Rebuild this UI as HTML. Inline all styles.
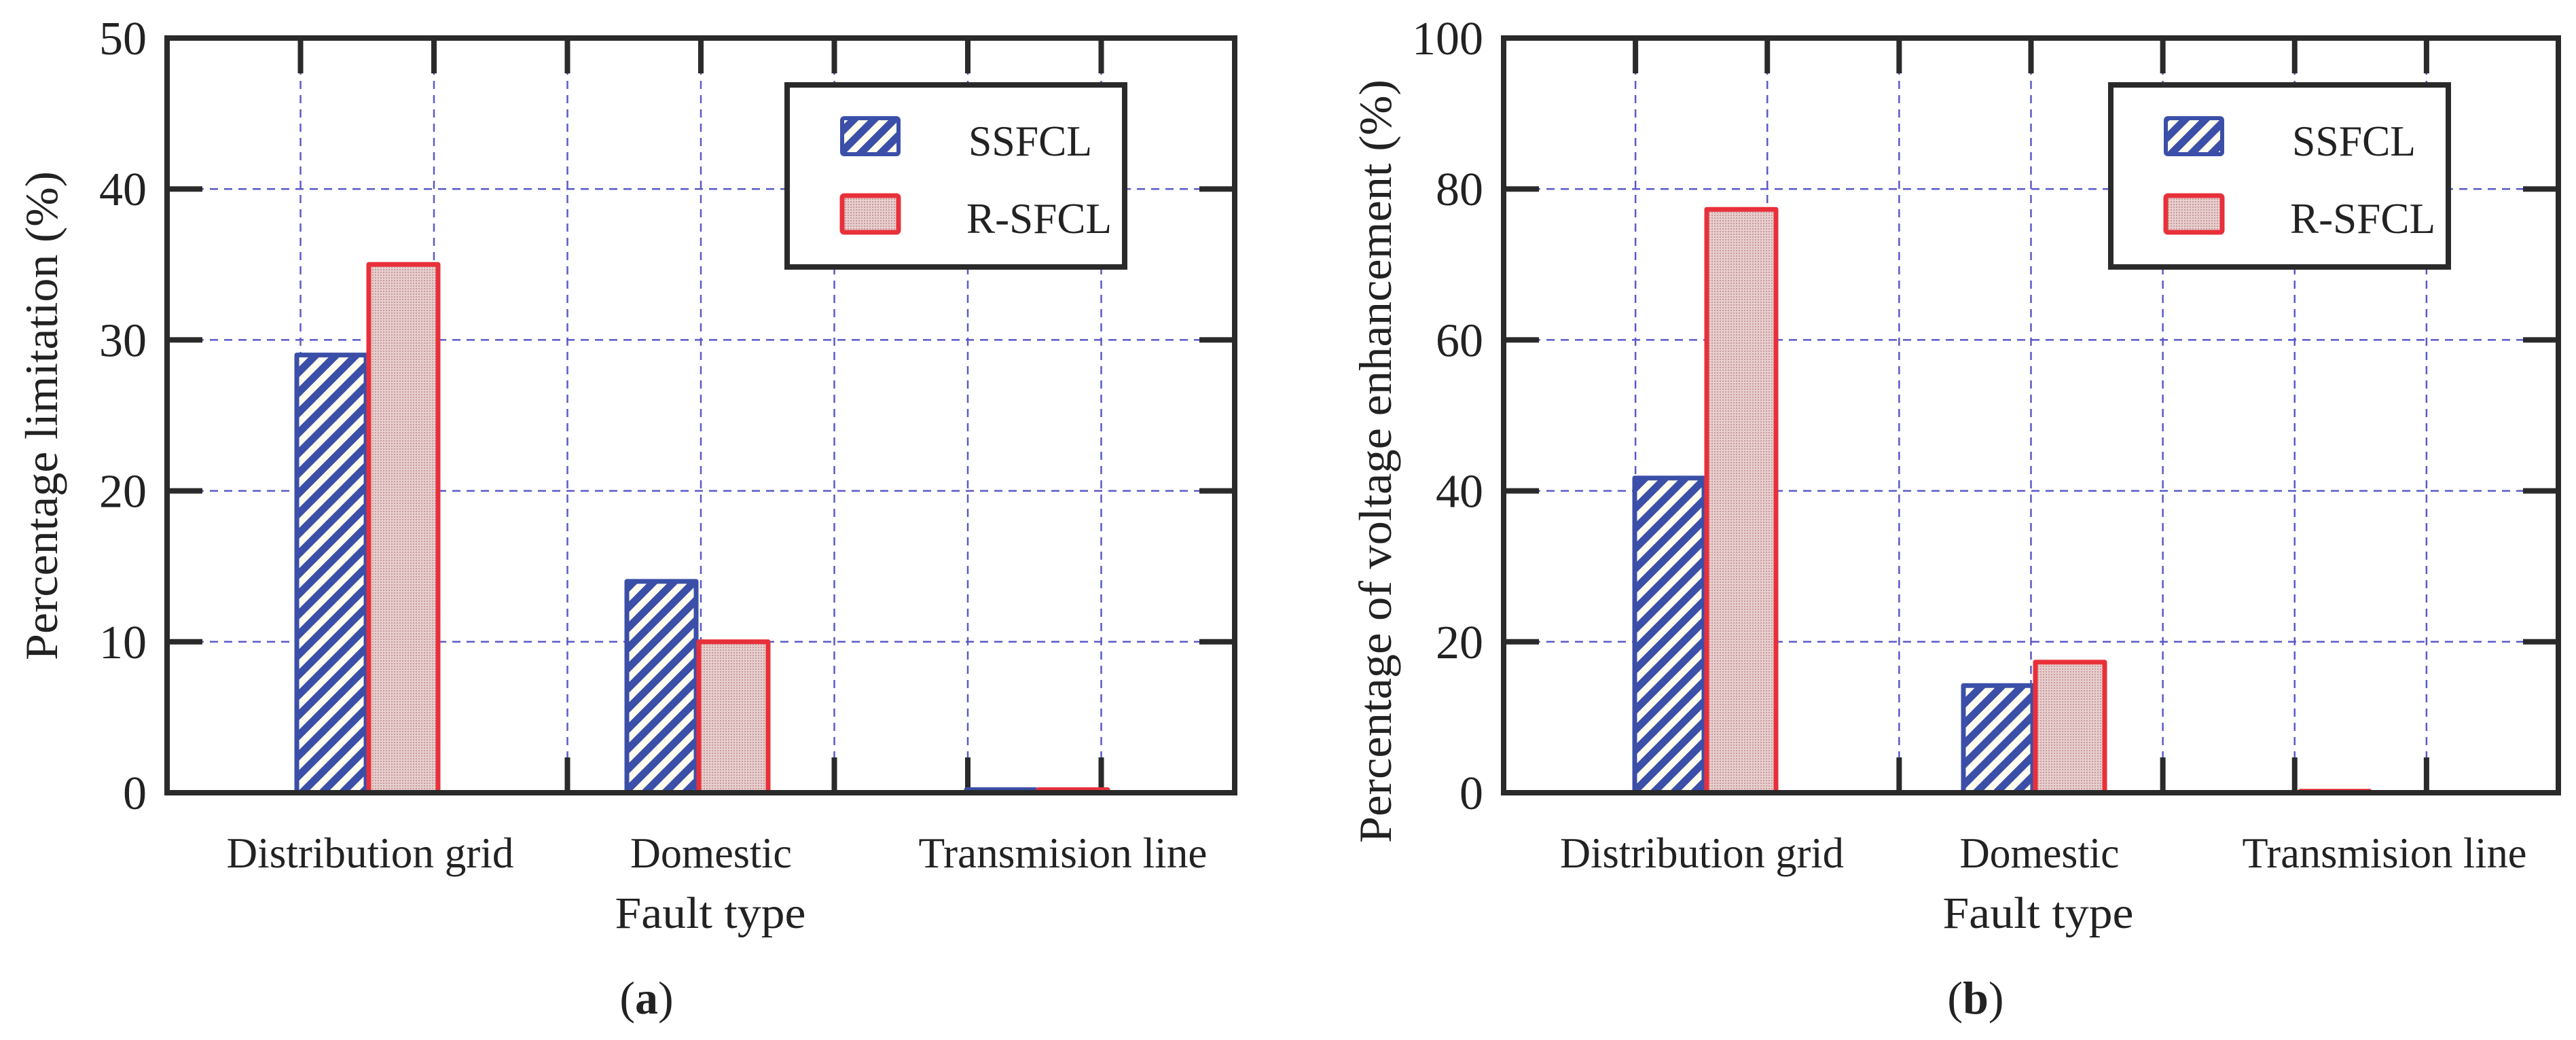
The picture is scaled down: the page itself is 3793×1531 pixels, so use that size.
<!DOCTYPE html>
<html><head><meta charset="utf-8">
<style>
html,body{margin:0;padding:0;background:#fff;}
svg{display:block;font-family:"Liberation Serif","DejaVu Serif",serif;}
</style></head>
<body>
<svg id="fig" width="3793" height="1531" viewBox="0 0 3793 1531" xmlns="http://www.w3.org/2000/svg">
<defs>
<pattern id="hatch" patternUnits="userSpaceOnUse" width="21" height="21" patternTransform="rotate(-45)">
<rect width="21" height="21" fill="#fffdf0"/>
<rect width="21" height="11" fill="#3b4fa8"/>
</pattern>
<pattern id="dots" patternUnits="userSpaceOnUse" width="4" height="4">
<rect width="4" height="4" fill="#e6cfcf"/>
<rect width="2" height="2" fill="#c99"/>
</pattern>
</defs>
</svg>
<script>
const categories = ["Distribution grid", "Domestic", "Transmision line"];
const seriesNames = ["SSFCL", "R-SFCL"];
const ssfclA = [29, 14, 0.2];
const rsfclA = [35, 10, 0.2];
const ssfclB = [41.7, 14.2, 0];
const rsfclB = [77.3, 17.3, 0.2];
const ticksA = [0, 10, 20, 30, 40, 50];
const ticksB = [0, 20, 40, 60, 80, 100];
const NS = "http://www.w3.org/2000/svg";
const svg = document.getElementById("fig");
function mk(tag, attrs, parent, text){
  const e = document.createElementNS(NS, tag);
  for (const k in attrs) e.setAttribute(k, attrs[k]);
  if (text !== undefined) e.textContent = text;
  (parent || svg).appendChild(e);
  return e;
}
function chart(cfg){
  const g = mk("g", {});
  
  
  const L = cfg.left, R = cfg.right, T = 56, B = 1167;
  const ymax = cfg.ticks[cfg.ticks.length-1];
  const y = v => B - (v / ymax) * (B - T);
  const xt = i => L + i * (R - L) / 8;
  for (let i = 1; i < 8; i++) {
    const gl = mk("line", {x1: xt(i), x2: xt(i), y1: T, y2: B, stroke: "#5a5ac8", "stroke-width": 2.5, "stroke-dasharray": "12 9"}, g);
    
    
  }
  cfg.ticks.forEach((t, k) => {
    if (k > 0 && k < cfg.ticks.length - 1) {
      const gl = mk("line", {x1: L, x2: R, y1: y(t), y2: y(t), stroke: "#5a5ac8", "stroke-width": 2.5, "stroke-dasharray": "12 9"}, g);
      
      
    }
  });
  const lx = R - 659, lw = 497;
  const lb = mk("rect", {x: lx, y: 125, width: lw, height: 268, fill: "#fff", stroke: "#2a2a2a", "stroke-width": 8}, g);
  
  
  const sw1 = mk("rect", {x: lx + 81, y: 174, width: 83, height: 53, fill: "url(#hatch)", stroke: "#3b4fa8", "stroke-width": 6, rx: 3}, g);
  
  
  const sw2 = mk("rect", {x: lx + 81, y: 288, width: 83, height: 54, fill: "url(#dots)", stroke: "#e8303a", "stroke-width": 7, rx: 3}, g);
  
  
  const lt1 = mk("text", {x: lx + 267, y: 229, "font-size": 64, fill: "#222", textLength: 182, lengthAdjust: "spacingAndGlyphs"}, g, seriesNames[0]);
  
  
  const lt2 = mk("text", {x: lx + 264, y: 343, "font-size": 64, fill: "#222", textLength: 214, lengthAdjust: "spacingAndGlyphs"}, g, seriesNames[1]);
  
  
  for (let i = 1; i < 8; i++) {
    mk("line", {x1: xt(i), x2: xt(i), y1: T, y2: T + 52, stroke: "#2a2a2a", "stroke-width": 8}, g);
    mk("line", {x1: xt(i), x2: xt(i), y1: B, y2: B - 52, stroke: "#2a2a2a", "stroke-width": 8}, g);
  }
  cfg.ticks.forEach(t => {
    mk("line", {x1: L, x2: L + 52, y1: y(t), y2: y(t), stroke: "#2a2a2a", "stroke-width": 8}, g);
    mk("line", {x1: R, x2: R - 52, y1: y(t), y2: y(t), stroke: "#2a2a2a", "stroke-width": 8}, g);
    const tl = mk("text", {x: L - 30, y: y(t) + 24, "font-size": 70, "text-anchor": "end", fill: "#222"}, g, String(t));
    
    
  });
  const bw = 102;
  categories.forEach((c, i) => {
    const cx = cfg.centers[i];
    const v1 = cfg.s1[i], v2 = cfg.s2[i];
    const b1 = mk("rect", {x: cx - bw - 2, y: y(v1), width: bw, height: Math.max(B - y(v1), 0.5), fill: "url(#hatch)", stroke: "#3b4fa8", "stroke-width": 7, "stroke-linejoin": "round"}, g);
    
    
    const b2 = mk("rect", {x: cx + 2, y: y(v2), width: bw, height: Math.max(B - y(v2), 0.5), fill: "url(#dots)", stroke: "#e8303a", "stroke-width": 7, "stroke-linejoin": "round"}, g);
    
    
    const xl = mk("text", {x: cfg.labelX[i], y: 1277, "font-size": 64, "text-anchor": "middle", fill: "#222", textLength: cfg.labelW[i], lengthAdjust: "spacingAndGlyphs"}, g, c);
    
    
  });
  const fr = mk("rect", {x: L, y: T, width: R - L, height: B - T, fill: "none", stroke: "#2a2a2a", "stroke-width": 8}, g);
  
  
  const xtitle = mk("text", {x: cfg.xTitleX, y: 1366, "font-size": 66, "text-anchor": "middle", fill: "#222", textLength: 281, lengthAdjust: "spacingAndGlyphs"}, g, "Fault type");
  
  
  const yt = mk("text", {x: 0, y: 0, "font-size": 68, "text-anchor": "middle", fill: "#222", textLength: cfg.yTitleLen, lengthAdjust: "spacingAndGlyphs", transform: `translate(${cfg.yTitleX},${cfg.yTitleY}) rotate(-90)`}, g, cfg.yTitle);
  
  
  const cap = mk("text", {x: cfg.capX, y: 1492, "font-size": 68, "text-anchor": "middle", fill: "#222"}, g);
  
  
  mk("tspan", {}, cap, "(");
  mk("tspan", {"font-weight": "bold"}, cap, cfg.cap);
  mk("tspan", {}, cap, ")");
}
chart({name: "chart-a", left: 246, right: 1818, ticks: ticksA, s1: ssfclA, s2: rsfclA,
  centers: [541, 1027, 1527], labelX: [545, 1047, 1565], labelW: [423, 238, 425],
  xTitleX: 1046, yTitle: "Percentage limitation (%)", yTitleX: 84, yTitleY: 612, yTitleLen: 720, capX: 952, cap: "a"});
chart({name: "chart-b", left: 2214, right: 3767, ticks: ticksB, s1: ssfclB, s2: rsfclB,
  centers: [2511, 2995, 3385], labelX: [2506, 3003, 3511], labelW: [418, 235, 419],
  xTitleX: 3001, yTitle: "Percentage of voltage enhancement (%)", yTitleX: 2048, yTitleY: 679, yTitleLen: 1124, capX: 2909, cap: "b"});
</script>
</body></html>
